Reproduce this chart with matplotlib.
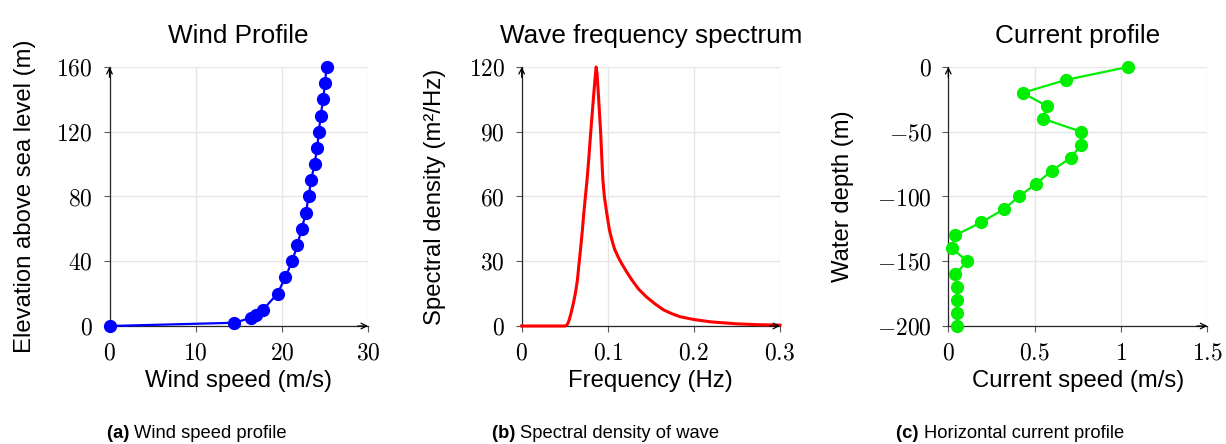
import matplotlib
matplotlib.use("Agg")
import matplotlib.pyplot as plt
from matplotlib.ticker import FuncFormatter

plt.rcParams['font.family'] = ['Liberation Sans', 'DejaVu Sans']
plt.rcParams['mathtext.fontset'] = 'cm'

# (a) wind speed profile
wind_speed = [0, 14.5, 16.4, 17.0, 17.8, 19.5, 20.4, 21.2, 21.8, 22.3, 22.8,
              23.1, 23.4, 23.8, 24.1, 24.3, 24.5, 24.8, 25.0, 25.2]
elevation = [0, 2, 5, 7, 10, 20, 30, 40, 50, 60, 70,
             80, 90, 100, 110, 120, 130, 140, 150, 160]

# (b) wave spectrum
freq = [0.0, 0.05, 0.052, 0.054, 0.0555, 0.0573, 0.06, 0.0625, 0.0647, 0.0665,
        0.0686, 0.0705, 0.0721, 0.074, 0.0759, 0.078, 0.0802, 0.082, 0.084,
        0.0855, 0.0865, 0.0875, 0.0888, 0.0903, 0.0918, 0.093, 0.0942, 0.096,
        0.0988, 0.1019, 0.105, 0.108, 0.112, 0.116, 0.122, 0.128, 0.136,
        0.1445, 0.155, 0.165, 0.175, 0.184, 0.2, 0.22, 0.25, 0.275, 0.3]
spec = [0, 0, 0.3, 1.5, 3.3, 5.9, 10.5, 15.5, 21.3, 28.5,
        36.7, 44.5, 52.2, 60, 67.7, 78, 90, 99, 109,
        116, 120, 117, 109, 99, 89, 78, 68, 60,
        52.2, 44.5, 39.5, 35.5, 32, 29, 25, 21.3, 17,
        13.6, 10.2, 7.4, 5.6, 4.3, 3.0, 1.9, 1.0, 0.6, 0.4]

# (c) current profile
cur_speed = [1.04, 0.68, 0.43, 0.57, 0.55, 0.77, 0.77, 0.71, 0.60, 0.51, 0.41,
             0.32, 0.19, 0.04, 0.02, 0.11, 0.04, 0.05, 0.05, 0.05, 0.05]
depth = [0, -10, -20, -30, -40, -50, -60, -70, -80, -90, -100,
         -110, -120, -130, -140, -150, -160, -170, -180, -190, -200]

fig = plt.figure(figsize=(12.26, 4.44), dpi=100)

W, H = 1226, 444
def box(left, right, top=67, bottom=326):
    return [left / W, (H - bottom) / H, (right - left) / W, (bottom - top) / H]

ax1 = fig.add_axes(box(109.5, 368))
ax2 = fig.add_axes(box(521.7, 780))
ax3 = fig.add_axes(box(948.3, 1207.3))

cm_fmt = FuncFormatter(lambda v, p: f'${v:g}$')

def style(ax, title, xlabel, ylabel, ylab_x):
    ax.grid(True, color='#e6e6e6', lw=1)
    ax.set_axisbelow(True)
    for s in ['top', 'right']:
        ax.spines[s].set_visible(False)
    for s in ['left', 'bottom']:
        ax.spines[s].set_color('0.15')
        ax.spines[s].set_linewidth(0.9)
    ax.tick_params(direction='out', length=4, width=0.8, color='0.35',
                   labelsize=17, pad=8)
    ax.xaxis.set_major_formatter(cm_fmt)
    ax.yaxis.set_major_formatter(cm_fmt)
    ax.set_title(title, fontsize=18.8, y=1.093, pad=0)
    ax.set_xlabel(xlabel, fontsize=17.2, va='center')
    ax.xaxis.set_label_coords(0.5, -0.212)
    ax.set_ylabel(ylabel, fontsize=17.2, va='center')
    ax.yaxis.set_label_coords(ylab_x, 0.5)
    # axis arrows
    arrow = dict(arrowstyle='->', color='black', lw=0.9,
                 mutation_scale=10, shrinkA=0, shrinkB=0)
    ax.annotate('', xy=(1.0, 0), xytext=(0.96, 0), xycoords='axes fraction',
                arrowprops=arrow, annotation_clip=False)
    ax.annotate('', xy=(0, 1.0), xytext=(0, 0.96), xycoords='axes fraction',
                arrowprops=arrow, annotation_clip=False)

ax1.plot(wind_speed, elevation, color='#0000ff', lw=1.6, marker='o',
         markersize=8.5, clip_on=False, zorder=3)
ax1.set_xlim(0, 30)
ax1.set_ylim(0, 160)
ax1.set_xticks([0, 10, 20, 30])
ax1.set_yticks([0, 40, 80, 120, 160])
style(ax1, 'Wind Profile', 'Wind speed (m/s)', 'Elevation above sea level (m)', -0.325)

ax2.plot(freq, spec, color='#ff0000', lw=2.2, clip_on=False, zorder=3)
ax2.set_xlim(0, 0.3)
ax2.set_ylim(0, 120)
ax2.set_xticks([0, 0.1, 0.2, 0.3])
ax2.set_yticks([0, 30, 60, 90, 120])
style(ax2, 'Wave frequency spectrum', 'Frequency (Hz)', 'Spectral density (m²/Hz)', -0.336)

ax3.plot(cur_speed, depth, color='#00ee00', lw=1.6, marker='o',
         markersize=8.5, clip_on=False, zorder=3)
ax3.set_xlim(0, 1.5)
ax3.set_ylim(-200, 0)
ax3.set_xticks([0, 0.5, 1, 1.5])
ax3.set_yticks([-200, -150, -100, -50, 0])
style(ax3, 'Current profile', 'Current speed (m/s)', 'Water depth (m)', -0.408)

# sub-captions: bold tag + plain text, centred as a whole
captions = [('(a)', 'Wind speed profile', 196.7),
            ('(b)', 'Spectral density of wave', 605.5),
            ('(c)', 'Horizontal current profile', 1010)]
renderer = fig.canvas.get_renderer()
base_y = (H - 438) / H
for tag, text, xc in captions:
    t1 = fig.text(0, base_y, tag + ' ', fontsize=13.2, fontweight='bold',
                  va='baseline', ha='left')
    t2 = fig.text(0, base_y, text, fontsize=13.2, va='baseline', ha='left')
    w1 = t1.get_window_extent(renderer).width
    w2 = t2.get_window_extent(renderer).width
    x0 = xc - (w1 + w2) / 2
    t1.set_x(x0 / W)
    t2.set_x((x0 + w1) / W)

fig.savefig('out.png', dpi=100)
